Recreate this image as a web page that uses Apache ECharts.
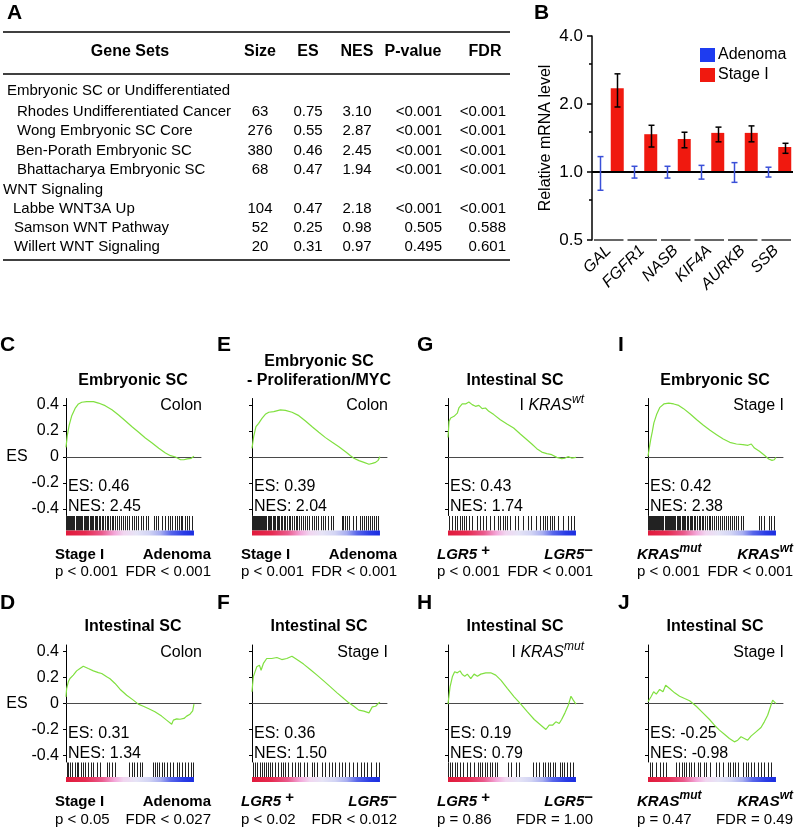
<!DOCTYPE html>
<html><head><meta charset="utf-8">
<script src="https://cdn.jsdelivr.net/npm/echarts@6/dist/echarts.min.js"></script>
<style>html,body{margin:0;padding:0;background:#fff}#c{width:794px;height:829px}</style>
</head><body><div id="c"></div><script>
// ---------------- Panel A: table data ----------------
const tableHeader = ['Gene Sets','Size','ES','NES','P-value','FDR'];
const groupNames = ['Embryonic SC or Undifferentiated','WNT Signaling'];
const setNames = ['Rhodes Undifferentiated Cancer','Wong Embryonic SC Core','Ben-Porath Embryonic SC','Bhattacharya Embryonic SC','Labbe WNT3A Up','Samson WNT Pathway','Willert WNT Signaling'];
const setSize = ['63','276','380','68','104','52','20'];
const setES = ['0.75','0.55','0.46','0.47','0.47','0.25','0.31'];
const setNES = ['3.10','2.87','2.45','1.94','2.18','0.98','0.97'];
const setP = ['<0.001','<0.001','<0.001','<0.001','<0.001','0.505','0.495'];
const setFDR = ['<0.001','<0.001','<0.001','<0.001','<0.001','0.588','0.601'];

// ---------------- Panel B: qPCR data ----------------
const genes = ['GAL','FGFR1','NASB','KIF4A','AURKB','SSB'];
const adenomaMean = [1,1,1,1,1,1];
const adenomaLow  = [0.83,0.94,0.94,0.93,0.90,0.95];
const adenomaHigh = [1.17,1.06,1.06,1.07,1.10,1.05];
const stageIMean = [2.35,1.47,1.40,1.49,1.49,1.29];
const stageILow  = [1.94,1.29,1.28,1.36,1.36,1.21];
const stageIHigh = [2.72,1.61,1.50,1.58,1.60,1.34];

// ---------------- GSEA panels ----------------
const esTicks = [-0.4,-0.2,0,0.2,0.4];
const esC = [[0,0.074],[10,0.164],[24,0.241],[45,0.318],[71,0.374],[97,0.408],[123,0.421],[162,0.426],[215,0.426],[254,0.415],[306,0.395],[359,0.364],[411,0.323],[463,0.279],[516,0.233],[568,0.19],[620,0.146],[673,0.108],[725,0.067],[777,0.031],[817,0.01],[856,0],[895,-0.021],[921,-0.021],[948,-0.015],[979,-0.01],[1000,0.005]];
const esE = [[0,0.067],[13,0.156],[31,0.233],[52,0.259],[78,0.297],[104,0.328],[131,0.344],[170,0.349],[222,0.362],[261,0.359],[313,0.344],[366,0.318],[418,0.277],[470,0.233],[522,0.19],[574,0.149],[627,0.113],[679,0.079],[731,0.041],[770,0.01],[796,-0.01],[836,-0.028],[875,-0.041],[914,-0.056],[940,-0.049],[966,-0.041],[984,-0.028],[1000,0.003]];
const esG = [[0,0.15],[4,0.21],[8,0.274],[21,0.3],[34,0.295],[47,0.313],[73,0.338],[85,0.377],[111,0.408],[137,0.408],[163,0.423],[189,0.403],[215,0.39],[241,0.397],[267,0.372],[293,0.377],[319,0.351],[358,0.326],[409,0.287],[461,0.254],[513,0.223],[565,0.177],[617,0.133],[655,0.1],[694,0.064],[733,0.038],[772,0.026],[811,0.018],[850,-0.003],[889,-0.013],[915,-0.008],[940,0.003],[966,-0.008],[1000,-0.003]];
const esI = [[0,0.005],[8,0.056],[21,0.133],[34,0.197],[46,0.262],[67,0.326],[93,0.382],[124,0.408],[162,0.415],[201,0.408],[240,0.397],[278,0.372],[330,0.331],[381,0.287],[433,0.244],[485,0.205],[536,0.172],[588,0.138],[639,0.113],[691,0.1],[742,0.095],[781,0.09],[807,0.1],[832,0.069],[871,0.044],[910,0.013],[943,-0.015],[969,-0.026],[987,-0.021],[1000,-0.003]];
const esD = [[0,0.051],[5,0.115],[18,0.167],[31,0.192],[57,0.218],[83,0.251],[109,0.269],[135,0.287],[148,0.282],[174,0.269],[214,0.251],[253,0.238],[279,0.231],[318,0.205],[344,0.19],[383,0.154],[422,0.11],[474,0.064],[526,0.026],[565,-0.005],[604,-0.021],[643,-0.038],[695,-0.064],[747,-0.097],[786,-0.128],[826,-0.159],[839,-0.128],[865,-0.118],[891,-0.121],[922,-0.115],[943,-0.097],[969,-0.082],[990,-0.056],[1000,-0.005]];
const esF = [[0,0.09],[10,0.205],[37,0.282],[58,0.295],[71,0.256],[89,0.308],[115,0.346],[154,0.346],[194,0.354],[233,0.338],[272,0.346],[312,0.364],[351,0.338],[403,0.303],[455,0.262],[508,0.218],[560,0.174],[613,0.128],[665,0.082],[717,0.038],[757,0.005],[796,-0.021],[835,-0.051],[874,-0.059],[914,-0.072],[940,-0.026],[966,-0.021],[992,0.005],[1000,0.01]];
const esH = [[0,-0.005],[16,0.128],[34,0.205],[52,0.244],[73,0.236],[94,0.251],[112,0.223],[131,0.21],[151,0.226],[178,0.192],[204,0.226],[230,0.21],[256,0.226],[295,0.236],[334,0.236],[373,0.218],[413,0.18],[465,0.115],[517,0.051],[569,-0.005],[621,-0.064],[674,-0.123],[726,-0.167],[765,-0.2],[791,-0.167],[817,-0.167],[843,-0.141],[869,-0.154],[888,-0.123],[914,-0.072],[940,-0.013],[961,0.056],[979,0.026],[1000,-0.005]];
const esJ = [[0,0.013],[26,0.056],[44,0.09],[65,0.072],[91,0.108],[117,0.09],[138,0.141],[169,0.115],[208,0.082],[247,0.056],[286,0.038],[325,0.021],[377,-0.021],[429,-0.072],[481,-0.123],[519,-0.167],[558,-0.205],[597,-0.236],[636,-0.269],[675,-0.295],[701,-0.282],[727,-0.256],[753,-0.269],[779,-0.282],[805,-0.251],[844,-0.218],[883,-0.185],[909,-0.141],[935,-0.09],[961,-0.013],[974,0.026],[995,0.005],[1000,0]];

const hitsC = [0,8,16,25,33,41,50,58,66,75,84,92,101,110,119,128,137,146,156,165,175,184,194,204,214,224,235,246,257,268,280,292,304,317,330,343,357,371,385,400,415,430,446,462,478,495,512,530,548,566,585,604,624,644,690,705,722,748,775,800,815,830,850,865,880,895,910,930,948,965,982];
const hitsE = [0,7,14,22,29,37,45,53,61,69,78,86,95,104,113,122,131,141,151,161,171,181,192,203,214,225,237,249,261,274,287,300,313,327,341,355,370,385,400,416,432,448,465,482,500,518,536,555,574,594,614,630,700,714,730,745,760,790,815,842,856,872,888,904,920,936,952,968,984];
const hitsG = [8,34,54,72,93,111,124,144,162,188,227,247,273,299,330,356,389,407,428,448,464,485,523,549,588,626,652,686,716,742,755,773,794,814,832,858,897,936,961,987];
const hitsI = [0,6,12,18,24,30,37,43,50,56,63,70,77,84,91,98,106,113,121,129,137,145,153,161,170,178,187,196,205,214,223,233,242,252,262,272,282,293,303,314,325,336,347,359,371,383,395,407,420,433,446,459,473,487,501,515,530,545,560,575,591,607,623,639,656,673,690,707,724,741,866,884,910,943,961,987];
const hitsD = [5,18,31,49,70,83,96,115,135,148,174,193,214,240,266,318,339,357,383,495,513,531,552,578,591,682,695,708,729,747,766,786,813,839,865,885,904,930,956,977,995];
const hitsF = [5,24,37,63,76,94,110,128,141,160,181,207,225,241,259,285,312,338,356,377,403,429,469,487,508,547,573,599,626,652,678,704,730,757,791,822,848,874,901,927,966,992];
const hitsH = [0,16,34,52,73,94,120,146,172,204,235,251,269,287,308,329,347,366,381,465,496,530,556,661,687,713,739,757,778,799,817,836,877,888,909,930,956,974];
const hitsJ = [13,34,65,91,117,143,221,242,268,278,299,319,338,356,390,408,434,455,481,532,553,584,623,642,662,683,701,740,766,779,805,831,857,883,909,935,961];

const panelLetters = ['C','E','G','I','D','F','H','J'];
const panelTitles = ['Embryonic SC','Embryonic SC\n- Proliferation/MYC','Intestinal SC','Embryonic SC','Intestinal SC','Intestinal SC','Intestinal SC','Intestinal SC'];
const panelCorner = ['{r|Colon}','{r|Colon}','{r|I }{i|KRAS}{isup|wt}','{r|Stage I}','{r|Colon}','{r|Stage I}','{r|I }{i|KRAS}{isup|mut}','{r|Stage I}'];
const panelES = ['0.46','0.39','0.43','0.42','0.31','0.36','0.19','-0.25'];
const panelNES = ['2.45','2.04','1.74','2.38','1.34','1.50','0.79','-0.98'];
const panelLeft = ['{b|Stage I}','{b|Stage I}','{bi|LGR5}{bsup| +}','{bi|KRAS}{bisup|mut}','{b|Stage I}','{bi|LGR5}{bsup| +}','{bi|LGR5}{bsup| +}','{bi|KRAS}{bisup|mut}'];
const panelRight = ['{b|Adenoma}','{b|Adenoma}','{bi|LGR5}{bsup|\u2212}','{bi|KRAS}{bisup|wt}','{b|Adenoma}','{bi|LGR5}{bsup|\u2212}','{bi|LGR5}{bsup|\u2212}','{bi|KRAS}{bisup|wt}'];
const panelP = ['p < 0.001','p < 0.001','p < 0.001','p < 0.001','p < 0.05','p < 0.02','p = 0.86','p = 0.47'];
const panelFDR = ['FDR < 0.001','FDR < 0.001','FDR < 0.001','FDR < 0.001','FDR < 0.027','FDR < 0.012','FDR = 1.00','FDR = 0.49'];
const esCurves = [esC, esE, esG, esI, esD, esF, esH, esJ];
const hitLists = [hitsC, hitsE, hitsG, hitsI, hitsD, hitsF, hitsH, hitsJ];

// ---------------- layout / style ----------------
const FF = '"Liberation Sans", Arial, Helvetica, sans-serif';
const RED = '#f0190f', BLUE = '#1e3cf0', ERRBLUE = '#3a50d8', GREEN = '#80e040';
const COL_X = [66, 252, 448, 648];
const ROW_TOP = [398.5, 645];
const GW = 135, GH = 117, YMIN = -0.45, YMAX = 0.45, XMAX = 1055;
const LETTER_X = [0, 217, 417, 618];
const LETTER_Y = [345, 603];
const TITLE_Y = [381, 627];
const LBL_Y = [555, 802], P_Y = [572, 820];
const BW = 13, BOFF = 8.5;

const rich = {
  r: {fontFamily: FF, fontSize: 16, fill: '#000', color: '#000', lineHeight: 24},
  i: {fontFamily: FF, fontSize: 16, fontStyle: 'italic', fill: '#000', color: '#000', lineHeight: 24},
  isup: {fontFamily: FF, fontSize: 12, fontStyle: 'italic', fill: '#000', color: '#000', verticalAlign: 'top', lineHeight: 12},
  b: {fontFamily: FF, fontSize: 15, fontWeight: 'bold', fill: '#000', color: '#000', lineHeight: 24},
  bi: {fontFamily: FF, fontSize: 15, fontWeight: 'bold', fontStyle: 'italic', fill: '#000', color: '#000', lineHeight: 24},
  bsup: {fontFamily: FF, fontSize: 15, fontWeight: 'bold', fill: '#000', color: '#000', verticalAlign: 'top', lineHeight: 13},
  bisup: {fontFamily: FF, fontSize: 12, fontWeight: 'bold', fontStyle: 'italic', fill: '#000', color: '#000', verticalAlign: 'top', lineHeight: 12}
};

function T(x, y, text, o) {
  o = o || {};
  const st = {text: text, fill: '#000', fontFamily: FF, fontSize: o.size || 16,
    fontWeight: o.bold ? 'bold' : 'normal', fontStyle: o.italic ? 'italic' : 'normal',
    align: o.align || 'left', textAlign: o.align || 'left', verticalAlign: 'middle', textVerticalAlign: 'middle'};
  if (o.rich) st.rich = rich;
  if (o.lineHeight) st.lineHeight = o.lineHeight;
  return {type: 'text', x: x, y: y, style: st, silent: true};
}
function L(x1, y1, x2, y2, w, c) {
  return {type: 'line', shape: {x1: x1, y1: y1, x2: x2, y2: y2}, style: {stroke: c || '#000', lineWidth: w || 1}, silent: true};
}

const graphics = [];
// Panel A
graphics.push(T(7, 13, 'A', {size: 21, bold: true}));
graphics.push(L(3, 32, 510, 32, 1.5));
graphics.push(L(3, 74, 510, 74, 1.5));
graphics.push(L(3, 260, 510, 260, 1.5));
const hdrX = [130, 260, 308, 357, 413, 485];
tableHeader.forEach((h, k) => graphics.push(T(hdrX[k], 52, h, {bold: true, align: 'center'})));
const groupY = [91, 190], groupX = [7, 3];
groupNames.forEach((g, k) => graphics.push(T(groupX[k], groupY[k], g, {size: 15})));
const rowY = [112, 131, 151, 170, 209, 228, 247];
const rowX = [17, 17, 16, 17, 13, 14, 14];
setNames.forEach((n, k) => {
  graphics.push(T(rowX[k], rowY[k], n, {size: 15}));
  graphics.push(T(260, rowY[k], setSize[k], {size: 15, align: 'center'}));
  graphics.push(T(308, rowY[k], setES[k], {size: 15, align: 'center'}));
  graphics.push(T(357, rowY[k], setNES[k], {size: 15, align: 'center'}));
  graphics.push(T(442, rowY[k], setP[k], {size: 15, align: 'right'}));
  graphics.push(T(506, rowY[k], setFDR[k], {size: 15, align: 'right'}));
});
// Panel B letter
graphics.push(T(534, 13, 'B', {size: 21, bold: true}));

const grids = [{left: 592, top: 36, width: 201, height: 204}];
const xAxes = [{gridIndex: 0, type: 'category', data: genes, axisLine: {show: false}, axisTick: {show: false},
  axisLabel: {rotate: 45, fontFamily: FF, fontSize: 16, fontStyle: 'italic', color: '#000', margin: 8, interval: 0}}];
const yAxes = [{gridIndex: 0, type: 'log', logBase: 2, min: 0.5, max: 4,
  axisLine: {show: true, lineStyle: {color: '#000', width: 1.5}},
  axisTick: {show: true, length: 5, lineStyle: {color: '#000', width: 1.5}},
  minorTick: {show: true, splitNumber: 2, length: 3, lineStyle: {color: '#000', width: 1.5}},
  splitLine: {show: false}, minorSplitLine: {show: false},
  axisLabel: {formatter: v => Number(v).toFixed(1), fontFamily: FF, fontSize: 17, color: '#000', margin: 9},
  name: 'Relative mRNA level', nameLocation: 'middle', nameGap: 38, nameRotate: 90,
  nameTextStyle: {fontFamily: FF, fontSize: 16, color: '#000'}}];

const series = [];
function errBars(name, lo, hi, off, color) {
  return {type: 'custom', name: name + ' err', xAxisIndex: 0, yAxisIndex: 0, silent: true,
    data: genes.map((g, i) => [i, lo[i], hi[i]]),
    renderItem: (p, api) => {
      const a = api.coord([api.value(0), api.value(1)]);
      const b = api.coord([api.value(0), api.value(2)]);
      const x = Math.round(a[0] + off) + 0.5;
      const st = {stroke: color, lineWidth: 1.5};
      return {type: 'group', children: [
        {type: 'line', shape: {x1: x, y1: a[1], x2: x, y2: b[1]}, style: st},
        {type: 'line', shape: {x1: x - 3, y1: a[1], x2: x + 3, y2: a[1]}, style: st},
        {type: 'line', shape: {x1: x - 3, y1: b[1], x2: x + 3, y2: b[1]}, style: st}
      ]};
    }, z: 5};
}
function bars(name, vals, off, color) {
  return {type: 'custom', name: name, xAxisIndex: 0, yAxisIndex: 0, itemStyle: {color: color},
    data: genes.map((g, i) => [i, vals[i]]),
    renderItem: (p, api) => {
      const t = api.coord([api.value(0), api.value(1)]);
      const b = api.coord([api.value(0), 1]);
      return {type: 'rect', shape: {x: t[0] + off - BW / 2, y: Math.min(t[1], b[1]), width: BW, height: Math.abs(b[1] - t[1])}, style: {fill: color}};
    }, z: 2};
}
series.push(bars('Adenoma', adenomaMean, -BOFF, BLUE));
series.push(bars('Stage I', stageIMean, BOFF, RED));
series.push(errBars('Adenoma', adenomaLow, adenomaHigh, -BOFF, ERRBLUE));
series.push(errBars('Stage I', stageILow, stageIHigh, BOFF, '#000'));
series.push({type: 'custom', xAxisIndex: 0, yAxisIndex: 0, silent: true, data: [[0, 1]], z: 4,
  renderItem: (p, api) => {
    const a = api.coord([0, 1]);
    const cs = p.coordSys;
    return {type: 'line', shape: {x1: cs.x, y1: Math.round(a[1]), x2: cs.x + cs.width, y2: Math.round(a[1])}, style: {stroke: '#000', lineWidth: 2}};
  }});
series.push({type: 'custom', xAxisIndex: 0, yAxisIndex: 0, silent: true, data: genes.map((g, i) => [i, 0.5]), z: 4,
  renderItem: (p, api) => {
    const a = api.coord([api.value(0), 0.5]);
    const w = api.size([1, 1])[0];
    return {type: 'line', shape: {x1: a[0] - w / 2 + 2, y1: a[1], x2: a[0] + w / 2 - 2, y2: a[1]}, style: {stroke: '#333', lineWidth: 1.5}};
  }});

const gradStops = [
  {offset: 0, color: '#e01a3c'}, {offset: 0.15, color: '#e62a50'}, {offset: 0.28, color: '#ea5a8c'},
  {offset: 0.38, color: '#f3a8da'}, {offset: 0.45, color: '#f1d6f0'}, {offset: 0.55, color: '#e6e4f6'},
  {offset: 0.65, color: '#d2d4f4'}, {offset: 0.74, color: '#a8aef0'}, {offset: 0.82, color: '#5866ea'},
  {offset: 0.92, color: '#2a3ce6'}, {offset: 1, color: '#1a2de0'}];

panelLetters.forEach((letter, k) => {
  const col = k % 4, row = Math.floor(k / 4);
  const gi = k + 1;
  const left = COL_X[col], top = ROW_TOP[row];
  const zeroY = top + GH * (YMAX / (YMAX - YMIN));
  grids.push({left: left, top: top, width: GW, height: GH});
  xAxes.push({gridIndex: gi, type: 'value', min: 0, max: XMAX,
    axisLine: {show: true, onZero: true, lineStyle: {color: '#4a4a4a', width: 1}},
    axisTick: {show: false}, axisLabel: {show: false}, splitLine: {show: false}});
  yAxes.push({gridIndex: gi, type: 'value', min: YMIN, max: YMAX,
    axisLine: {show: true, onZero: false, lineStyle: {color: '#000', width: 1}},
    axisTick: {show: true, customValues: esTicks, length: 3, lineStyle: {color: '#000'}},
    axisLabel: {show: col === 0, customValues: esTicks, formatter: v => (v === 0 ? '0' : Number(v).toFixed(1)),
      fontFamily: FF, fontSize: 16, color: '#000', margin: 7},
    splitLine: {show: false}});
  series.push({type: 'line', xAxisIndex: gi, yAxisIndex: gi, data: esCurves[k], showSymbol: false, silent: true,
    lineStyle: {color: GREEN, width: 1.2}, z: 3});
  series.push({type: 'custom', xAxisIndex: gi, yAxisIndex: gi, silent: true, clip: false,
    data: hitLists[k].map(h => [h, YMIN]),
    renderItem: (p, api) => {
      const a = api.coord([api.value(0), YMIN]);
      const x = Math.round(a[0]) + 0.5;
      return {type: 'line', shape: {x1: x, y1: a[1] + 0.5, x2: x, y2: a[1] + 15}, style: {stroke: '#222', lineWidth: 1}};
    }});
  series.push({type: 'custom', xAxisIndex: gi, yAxisIndex: gi, silent: true, clip: false,
    data: [[0, 1000]],
    renderItem: (p, api) => {
      const a = api.coord([api.value(0), YMIN]);
      const b = api.coord([api.value(1), YMIN]);
      return {type: 'rect', shape: {x: a[0], y: a[1] + 15, width: b[0] - a[0], height: 5},
        style: {fill: new echarts.graphic.LinearGradient(0, 0, 1, 0, gradStops)}};
    }});
  graphics.push(T(LETTER_X[col], LETTER_Y[row], letter, {size: 21, bold: true}));
  if (panelTitles[k].indexOf('\n') >= 0) {
    graphics.push(T(left + 67, TITLE_Y[row] - 10, panelTitles[k], {bold: true, align: 'center', lineHeight: 19}));
  } else {
    graphics.push(T(left + 67, TITLE_Y[row], panelTitles[k], {bold: true, align: 'center'}));
  }
  graphics.push(T(left + 136, zeroY - 51, panelCorner[k], {align: 'right', rich: true}));
  graphics.push(T(left + 2, zeroY + 30, 'ES: ' + panelES[k], {}));
  graphics.push(T(left + 2, zeroY + 50, 'NES: ' + panelNES[k], {}));
  graphics.push(T(left - 11, LBL_Y[row], panelLeft[k], {rich: true}));
  graphics.push(T(left + 145, LBL_Y[row], panelRight[k], {rich: true, align: 'right'}));
  graphics.push(T(left - 11, P_Y[row], panelP[k], {size: 15}));
  graphics.push(T(left + 145, P_Y[row], panelFDR[k], {size: 15, align: 'right'}));
  if (col === 0) graphics.push(T(17, zeroY, 'ES', {align: 'center'}));
});

const chart = echarts.init(document.getElementById('c'), null, {renderer: 'canvas'});
chart.setOption({
  animation: false,
  backgroundColor: '#fff',
  textStyle: {fontFamily: FF},
  grid: grids,
  xAxis: xAxes,
  yAxis: yAxes,
  legend: {orient: 'vertical', left: 695, top: 42, itemWidth: 15, itemHeight: 14, itemGap: 4,
    textStyle: {fontFamily: FF, fontSize: 16, color: '#000', padding: [0, 0, 0, -2]},
    data: [{name: 'Adenoma', icon: 'rect', itemStyle: {color: BLUE}}, {name: 'Stage I', icon: 'rect', itemStyle: {color: RED}}]},
  series: series,
  graphic: {elements: graphics}
});
</script></body></html>
